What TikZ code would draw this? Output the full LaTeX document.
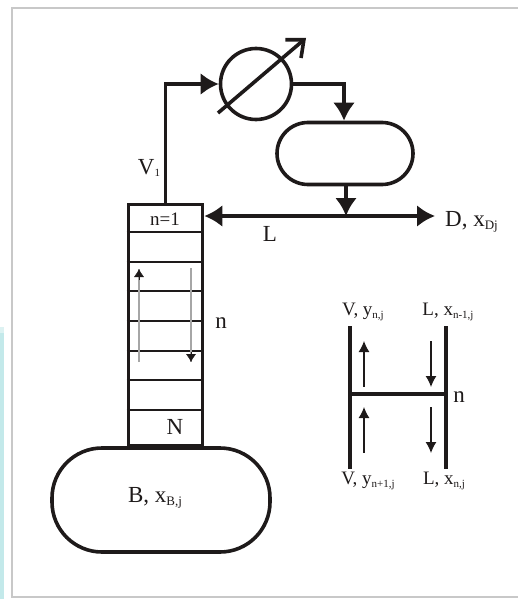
\documentclass[tikz,border=0pt]{standalone}
\usepackage{fontspec}
\setmainfont{Liberation Serif}
\usepackage{tikz}
\usetikzlibrary{arrows.meta,positioning,calc}
\definecolor{stripcol}{HTML}{C3E9EA}
\definecolor{striplite}{HTML}{DDF2F2}
\definecolor{framecol}{HTML}{C8C8C8}
\definecolor{inkcol}{HTML}{1E1A1A}
\newcommand{\lowtxt}[1]{\raisebox{-3pt}{\fontsize{13}{13}\selectfont #1}}
\newcommand{\lowsm}[1]{\raisebox{-2.5pt}{\fontsize{11}{11}\selectfont #1}}

\begin{document}
\begin{tikzpicture}[x=1pt,y=-1pt,>={Latex[length=18pt,width=22pt]},inkcol,
  vessel/.style={draw,line width=3.6pt,rounded corners=#1,inner sep=0pt},
  pipe/.style={draw,line width=3.6pt},
  tray/.style={line width=1.2pt},
  flow/.style={line width=1.2pt,{Latex[length=11pt,width=11pt]}-},
  lab/.style={inner sep=0pt,font=\fontsize{23}{26}\selectfont},
  labsm/.style={inner sep=0pt,font=\fontsize{19}{22}\selectfont}]
\useasboundingbox (0,0) rectangle (518,599);
\fill[stripcol] (0,327) rectangle (4,599);
\fill[striplite] (0,327) rectangle (4,333);
\draw[framecol,line width=2pt] (518,8) -- (12,8) -- (12,597) -- (518,597);
\node (column) [draw,line width=3.6pt,minimum width=74pt,minimum height=241pt,inner sep=0pt] at (165.5,325) {};
\node (reboiler) [vessel=50pt,minimum width=218pt,minimum height=104pt] at (161,500) {};
\node (condenser) [draw,circle,line width=3.6pt,minimum size=71pt,inner sep=0pt] at (256,84) {};
\node (drum) [vessel=31pt,minimum width=136pt,minimum height=62pt] at (345,153.5) {};
\foreach \y in {232,262,291,321,351,380,410}
  \draw[tray] (column.west |- 0,\y) -- (column.east |- 0,\y);
\coordinate (bend) at (165.5,84);
\coordinate (drumin) at (344,84);
\coordinate (tee) at (346,216);
\coordinate (dist) at (435,216);
\coordinate (refl) at (column.east |- tee);
\draw[pipe,->] (column.north) -- (bend) -- (condenser.west);
\draw[pipe,->] (condenser.east) -- (drumin) -- (drumin |- drum.north);
\draw[pipe,->] (drum.south -| tee) -- (tee);
\draw[pipe,<->] (refl) -- (dist);
\coordinate (hxa) at (218,113);
\coordinate (hxb) at (306,38);
\draw[line width=3.6pt,-{Straight Barb[length=14pt,width=24pt]}] (hxa) -- (hxb);
\coordinate (upa) at (139,362);
\coordinate (upb) at (139,269);
\coordinate (dna) at (191,268);
\coordinate (dnb) at (191,362);
\draw[gray!70,line width=1.2pt] (upa) -- (upb) (dna) -- (dnb);
\draw[-{Latex[length=8pt,width=10pt]}] (139,280) -- (upb);
\draw[-{Latex[length=8pt,width=10pt]}] (191,352) -- (dnb);
\node (vone) [lab] at (149,168) {V\lowsm{1}};
\node (ltext) [lab] at (270,234) {L};
\node (dtext) [lab,anchor=west] at (445,222) {D, x\lowtxt{Dj}};
\node (ntop) [labsm] at (165,219) {n=1};
\node (nmid) [lab] at (221,323) {n};
\node (nlast) [lab] at (175,427) {N};
\node (btext) [lab] at (155,498) {B, x\lowtxt{B,j}};
\coordinate (ltop) at (350,326);
\coordinate (lbot) at (350,469);
\coordinate (rtop) at (446,326);
\coordinate (rbot) at (446,469);
\coordinate (hl) at (350,394);
\coordinate (hr) at (446,394);
\draw[pipe] (ltop) -- (lbot);
\draw[pipe] (rtop) -- (rbot);
\draw[pipe] (hl) -- (hr);
\coordinate (ua1) at (364,387);
\coordinate (ua2) at (364,341);
\coordinate (ub1) at (364,453);
\coordinate (ub2) at (364,407);
\coordinate (da1) at (431,341);
\coordinate (da2) at (431,387);
\coordinate (db1) at (431,407);
\coordinate (db2) at (431,453);
\draw[flow] (ua2) -- (ua1);
\draw[flow] (ub2) -- (ub1);
\draw[flow] (da2) -- (da1);
\draw[flow] (db2) -- (db1);
\node (vtl) [labsm] at (363,312) {V, y\lowsm{n,j}};
\node (ltl) [labsm] at (448,312) {L, x\lowsm{n-1,j}};
\node (vbl) [labsm] at (368,481) {V, y\lowsm{n+1,j}};
\node (lbl) [labsm] at (444,481) {L, x\lowsm{n,j}};
\node (nside) [lab] at (459,397) {n};
\end{tikzpicture}
\end{document}
